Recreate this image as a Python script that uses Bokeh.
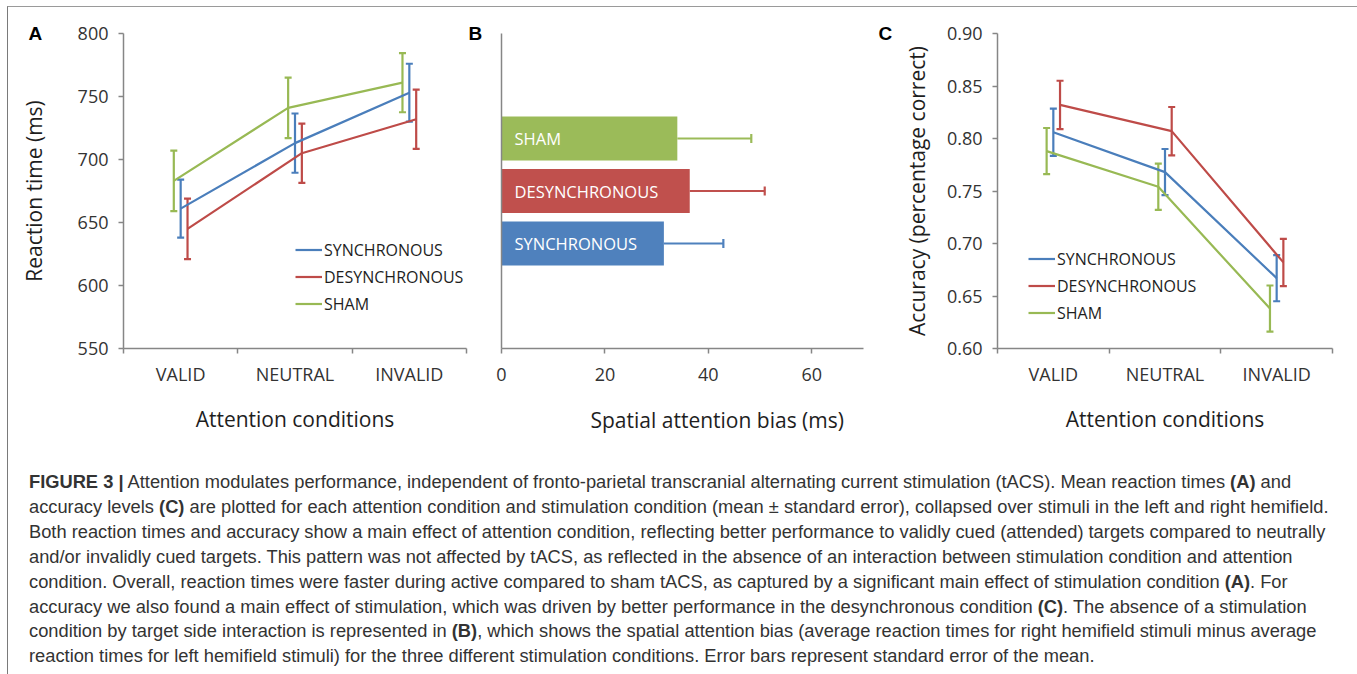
from bokeh.plotting import figure
from bokeh.models import (ColumnDataSource, Whisker, TeeHead, Legend, LegendItem,
                          Title, FixedTicker, NumeralTickFormatter, Range1d, Div)
from bokeh.layouts import row, column
from bokeh.embed import file_html
from bokeh.resources import INLINE
from bokeh.core.properties import value

# ---------------- data ----------------
categories = ["VALID", "NEUTRAL", "INVALID"]
series_names = ["SYNCHRONOUS", "DESYNCHRONOUS", "SHAM"]

# Panel A: reaction time (ms), mean and standard error
rt_sync = [661, 713, 753]
rt_sync_se = [23, 23.5, 23]
rt_desync = [645, 705, 732]
rt_desync_se = [24, 23.5, 23.5]
rt_sham = [683, 741, 761]
rt_sham_se = [24, 24, 23.5]

# Panel B: spatial attention bias (ms)
bias_conditions = ["SYNCHRONOUS", "DESYNCHRONOUS", "SHAM"]
bias_values = [31.4, 36.4, 34.0]
bias_se = [11.5, 14.5, 14.3]

# Panel C: accuracy (proportion correct)
acc_sync = [0.806, 0.768, 0.667]
acc_sync_se = [0.0225, 0.022, 0.022]
acc_desync = [0.832, 0.807, 0.682]
acc_desync_se = [0.023, 0.023, 0.0225]
acc_sham = [0.788, 0.754, 0.638]
acc_sham_se = [0.022, 0.022, 0.022]

rt_ticks = [550, 600, 650, 700, 750, 800]
acc_ticks = [0.60, 0.65, 0.70, 0.75, 0.80, 0.85, 0.90]
bias_ticks = [0, 20, 40, 60]

caption_lines = [
    "<b>FIGURE 3 |</b> Attention modulates performance, independent of fronto-parietal transcranial alternating current stimulation (tACS). Mean reaction times <b>(A)</b> and",
    "accuracy levels <b>(C)</b> are plotted for each attention condition and stimulation condition (mean &plusmn; standard error), collapsed over stimuli in the left and right hemifield.",
    "Both reaction times and accuracy show a main effect of attention condition, reflecting better performance to validly cued (attended) targets compared to neutrally",
    "and/or invalidly cued targets. This pattern was not affected by tACS, as reflected in the absence of an interaction between stimulation condition and attention",
    "condition. Overall, reaction times were faster during active compared to sham tACS, as captured by a significant main effect of stimulation condition <b>(A)</b>. For",
    "accuracy we also found a main effect of stimulation, which was driven by better performance in the desynchronous condition <b>(C)</b>. The absence of a stimulation",
    "condition by target side interaction is represented in <b>(B)</b>, which shows the spatial attention bias (average reaction times for right hemifield stimuli minus average",
    "reaction times for left hemifield stimuli) for the three different stimulation conditions. Error bars represent standard error of the mean.",
]

# ---------------- styles ----------------
LINE_COLORS = {"SYNCHRONOUS": "#4A7EBB", "DESYNCHRONOUS": "#BE4B48", "SHAM": "#98B954"}
BAR_COLORS = {"SYNCHRONOUS": "#4F81BD", "DESYNCHRONOUS": "#C0504D", "SHAM": "#9BBB59"}
OFFSETS = {"SYNCHRONOUS": 0.0, "DESYNCHRONOUS": 0.06, "SHAM": -0.06}
FONT = "Open Sans"
AXIS_COLOR = "#868686"
TICK_TEXT = "#333333"
TITLE_TEXT = "#1e1e1e"
EXTRA = 24                 # extra room below the frames (taken back from the caption)
FIG_H = 432 + EXTRA
TOP = 26
BOTTOM = 91 + EXTRA
LETTER_STANDOFF = -20


def style_axes(p):
    for ax in (p.xaxis[0], p.yaxis[0]):
        ax.axis_line_color = AXIS_COLOR
        ax.axis_line_width = 1.5
        ax.major_tick_line_color = AXIS_COLOR
        ax.major_tick_line_width = 1.5
        ax.minor_tick_line_color = AXIS_COLOR
        ax.minor_tick_line_width = 1.5
        ax.major_label_text_font = FONT
        ax.major_label_text_font_size = "18px"
        ax.major_label_text_color = TICK_TEXT
        ax.axis_label_text_font = FONT
        ax.axis_label_text_font_size = "21px"
        ax.axis_label_text_font_style = "normal"
        ax.axis_label_text_color = TITLE_TEXT
    p.xgrid.visible = False
    p.ygrid.visible = False
    p.outline_line_color = None
    p.background_fill_color = "white"
    p.border_fill_color = "white"


def add_letter(p, letter, offset):
    p.add_layout(Title(text=letter, align="left", offset=offset, standoff=LETTER_STANDOFF,
                       text_font="Liberation Sans", text_font_style="bold",
                       text_font_size="19px", text_color="black"), "above")


def line_panel(width, left, right, y_range, yticks, ylabel, ylabel_standoff, data,
               letter, letter_offset, legend_xy, fmt=None):
    p = figure(width=width, height=FIG_H, x_range=Range1d(0, 3), y_range=y_range,
               output_backend="svg", toolbar_location=None,
               min_border_left=left, min_border_right=right,
               min_border_top=TOP, min_border_bottom=BOTTOM)
    style_axes(p)
    xa = p.xaxis[0]
    xa.ticker = FixedTicker(ticks=[i + 0.5 for i in range(len(categories))],
                            minor_ticks=list(range(len(categories) + 1)))
    xa.major_label_overrides = {i + 0.5: c for i, c in enumerate(categories)}
    xa.major_tick_out = 0
    xa.major_tick_in = 0
    xa.minor_tick_out = 5
    xa.minor_tick_in = 0
    xa.major_label_standoff = 8
    xa.axis_label = "Attention conditions"
    xa.axis_label_standoff = 16
    ya = p.yaxis[0]
    ya.ticker = FixedTicker(ticks=yticks)
    ya.major_tick_out = 5
    ya.major_tick_in = 0
    ya.minor_tick_line_color = None
    ya.major_label_standoff = 10
    ya.axis_label = ylabel
    ya.axis_label_standoff = ylabel_standoff
    if fmt:
        ya.formatter = NumeralTickFormatter(format=fmt)

    items = []
    for name, (vals, ses) in data.items():
        xs = [i + 0.5 + OFFSETS[name] for i in range(len(categories))]
        src = ColumnDataSource(dict(x=xs, y=vals,
                                    lo=[v - s for v, s in zip(vals, ses)],
                                    hi=[v + s for v, s in zip(vals, ses)]))
        col = LINE_COLORS[name]
        r = p.line("x", "y", source=src, line_color=col, line_width=2.2)
        p.add_layout(Whisker(source=src, base="x", lower="lo", upper="hi",
                             dimension="height", line_color=col, line_width=2.2,
                             lower_head=TeeHead(size=7, line_color=col, line_width=2.2),
                             upper_head=TeeHead(size=7, line_color=col, line_width=2.2)))
        items.append(LegendItem(label=name, renderers=[r]))
    leg = Legend(items=items, location=legend_xy, padding=0, margin=0,
                 border_line_color=None, background_fill_alpha=0,
                 glyph_width=27, glyph_height=27, label_height=27, spacing=0,
                 label_standoff=2, label_text_font=FONT, label_text_font_size="16px",
                 label_text_color=TITLE_TEXT)
    p.add_layout(leg, "center")
    add_letter(p, letter, letter_offset)
    return p


pA = line_panel(460, 115, 2, Range1d(550, 800), rt_ticks, "Reaction time (ms)", 27,
                {"SYNCHRONOUS": (rt_sync, rt_sync_se),
                 "DESYNCHRONOUS": (rt_desync, rt_desync_se),
                 "SHAM": (rt_sham, rt_sham_se)}, "A", -95, (172, 31))

pC = line_panel(475, 122, 18, Range1d(0.60, 0.90), acc_ticks, "Accuracy (percentage correct)", 13,
                {"SYNCHRONOUS": (acc_sync, acc_sync_se),
                 "DESYNCHRONOUS": (acc_desync, acc_desync_se),
                 "SHAM": (acc_sham, acc_sham_se)}, "C", -119, (31, 22), fmt="0.00")

# ---------------- panel B ----------------
pB = figure(width=407, height=FIG_H, x_range=Range1d(0, 70), y_range=Range1d(0, 6),
            output_backend="svg", toolbar_location=None,
            min_border_left=33, min_border_right=12, min_border_top=TOP,
            min_border_bottom=BOTTOM)
style_axes(pB)
bx = pB.xaxis[0]
bx.ticker = FixedTicker(ticks=bias_ticks)
bx.major_tick_out = 5
bx.major_tick_in = 0
bx.minor_tick_line_color = None
bx.major_label_standoff = 14
by = pB.yaxis[0]
by.ticker = FixedTicker(ticks=[])
by.major_tick_line_color = None
by.minor_tick_line_color = None

ypos = [i + 2 for i in range(len(bias_conditions))]
bsrc = ColumnDataSource(dict(
    y=ypos, v=bias_values,
    hi=[v + s for v, s in zip(bias_values, bias_se)],
    name=bias_conditions,
    color=[BAR_COLORS[n] for n in bias_conditions],
))
pB.hbar(y="y", left=0, right="v", height=0.84, source=bsrc, fill_color="color",
        line_color=None)
for i, n in enumerate(bias_conditions):
    s = ColumnDataSource(dict(y=[ypos[i]], v=[bias_values[i]], hi=[bsrc.data["hi"][i]]))
    col = BAR_COLORS[n]
    pB.add_layout(Whisker(source=s, base="y", lower="v", upper="hi", dimension="width",
                          line_color=col, line_width=2.2, lower_head=None,
                          upper_head=TeeHead(size=9, line_color=col, line_width=2.2)))
pB.text(x=0, y="y", text="name", source=bsrc, x_offset=13, text_baseline="middle",
        text_align="left", text_color="white", text_font=value(FONT),
        text_font_size="16.5px")
pB.add_layout(Title(text="Spatial attention bias (ms)", align="left", offset=89,
                    standoff=40, text_font=FONT, text_font_size="21px",
                    text_font_style="normal", text_color=TITLE_TEXT), "below")
add_letter(pB, "B", -33)

caption = Div(text="<br>".join(caption_lines), width=1342, height=230 - EXTRA,
              styles={"font-family": "'Liberation Sans', sans-serif",
                      "font-size": "18.3px", "line-height": "24.9px", "color": "#333333",
                      "padding-left": "16px", "padding-top": f"{26 - EXTRA}px",
                      "white-space": "nowrap", "box-sizing": "border-box"})

layout = column(row(pA, pB, pC), caption,
                styles={"margin-left": "7px", "margin-top": "6px",
                        "border-top": "1px solid #9a9a9a",
                        "border-left": "1px solid #7a7a7a",
                        "border-right": "2px solid #6a6a6a"})

open("out.html", "w").write(file_html(layout, INLINE))
